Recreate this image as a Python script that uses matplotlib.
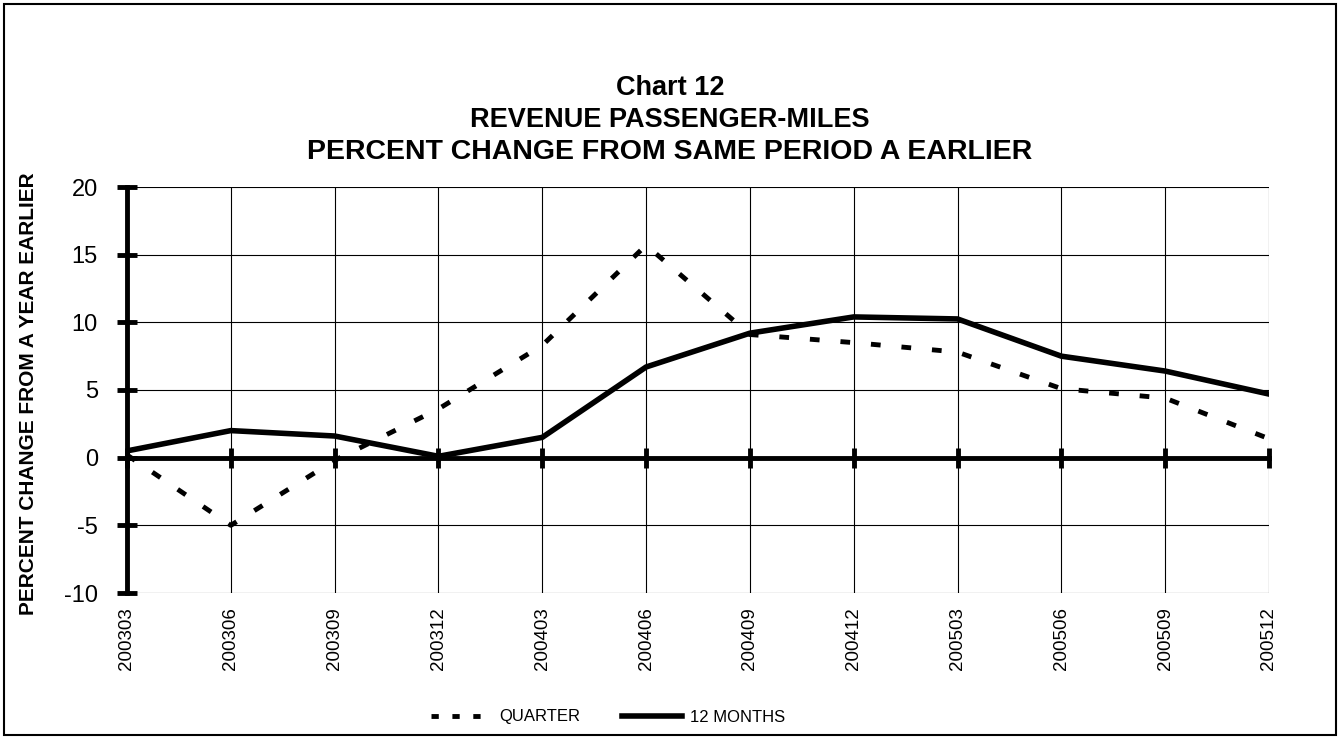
import matplotlib
matplotlib.use("Agg")
import matplotlib.pyplot as plt
from matplotlib.lines import Line2D
from matplotlib.patches import Rectangle

periods = ["200303", "200306", "200309", "200312", "200403", "200406",
           "200409", "200412", "200503", "200506", "200509", "200512"]
quarter = [0.2, -5.0, -0.2, 3.6, 8.3, 15.7, 9.1, 8.5, 7.8, 5.1, 4.4, 1.4]
twelve_months = [0.5, 2.0, 1.6, 0.1, 1.5, 6.7, 9.2, 10.4, 10.25, 7.5, 6.4, 4.7]
y_ticks = [-10, -5, 0, 5, 10, 15, 20]

plt.rcParams["font.family"] = ["Liberation Sans", "DejaVu Sans"]
plt.rcParams["axes.unicode_minus"] = False

fig = plt.figure(figsize=(13.4, 7.38), dpi=100)
ax = fig.add_axes([127 / 1340, 1 - 593 / 738, 1142 / 1340, 406 / 738])

x = list(range(len(periods)))
ax.plot(x, quarter, color="black", lw=3.5, dashes=(2.0, 4.3), solid_capstyle="butt")
ax.plot(x, twelve_months, color="black", lw=4.0)

ax.set_xlim(0, len(periods) - 1)
ax.set_ylim(-10, 20)
ax.set_yticks(y_ticks)
ax.set_xticks(x)
ax.set_xticklabels(periods, rotation=90, fontsize=13.5)
ax.tick_params(axis="x", length=0, pad=10)
ax.tick_params(axis="y", direction="inout", length=14, width=3.5, labelsize=17, pad=14)
ax.grid(True, color="black", lw=0.8)
ax.set_axisbelow(True)

for side in ["top", "right", "bottom"]:
    ax.spines[side].set_visible(False)
ax.spines["left"].set_linewidth(3.5)

# zero line carrying the category tick marks
zero = ax.secondary_xaxis(10 / 30)
zero.set_xticks(x)
zero.set_xticklabels([])
zero.spines["bottom"].set_linewidth(3.5)
zero.tick_params(direction="inout", length=14, width=3.5)

ax.set_ylabel("PERCENT CHANGE FROM A YEAR EARLIER", fontsize=15, fontweight="bold")
ax.yaxis.set_label_coords(-0.078, 0.49)

title_kw = dict(ha="center", va="center", fontweight="bold")
fig.text(0.5, 1 - 88 / 738, "Chart 12", fontsize=19.5, **title_kw)
fig.text(0.5, 1 - 120 / 738, "REVENUE PASSENGER-MILES", fontsize=19.5, **title_kw)
fig.text(0.5, 1 - 152 / 738, "PERCENT CHANGE FROM SAME PERIOD A EARLIER", fontsize=20.5, **title_kw)

handles = [Line2D([], [], color="black", lw=3.5, dashes=(1.5, 2.8)),
           Line2D([], [], color="black", lw=4.0)]
fig.legend(handles, ["QUARTER", "12 MONTHS"], loc="center", bbox_to_anchor=(0.454, 1 - 717 / 738),
           ncol=2, frameon=False, fontsize=12, handlelength=3.6, handletextpad=0.5, columnspacing=2.5)

fig.patches.append(Rectangle((4 / 1340, 3 / 738), 1332 / 1340, 731 / 738, transform=fig.transFigure,
                             fill=False, edgecolor="black", lw=1.5))

fig.savefig("out.png", dpi=100)
